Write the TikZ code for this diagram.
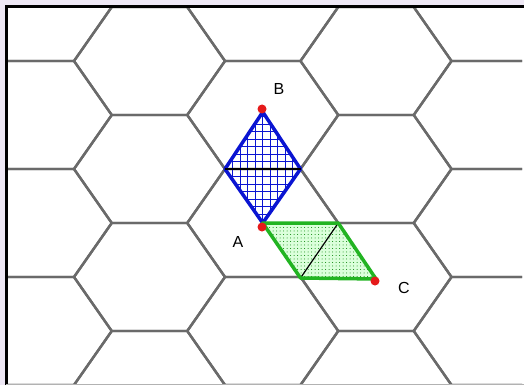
\documentclass[tikz,border=0pt]{standalone}
\usepackage{fontspec}
\setmainfont{Liberation Sans}
\usetikzlibrary{patterns.meta}
\definecolor{bgl}{HTML}{EEE8F5}
\definecolor{hexgray}{HTML}{6A6A6A}
\definecolor{dblue}{HTML}{0A14D2}
\definecolor{dgreen}{HTML}{22B422}
\definecolor{dred}{HTML}{E51A1A}
\begin{document}
\begin{tikzpicture}[x=1pt,y=-1pt,
  hexline/.style={draw=hexgray,line width=2.4pt,line join=miter},
  gridline/.style={dblue,line width=0.9pt},
  dot/.style={circle,fill=dred,inner sep=0pt,minimum size=9pt},
  lbl/.style={font=\fontsize{16}{16}\selectfont,inner sep=0pt}]
\useasboundingbox (0,0) rectangle (524,385);
\fill[bgl] (0,0) rectangle (524,385);
\fill[white] (6,6) rectangle (524,385);
\begin{scope}
\clip (7,7) rectangle (522,384);
\foreach \k in {-1,...,4} {
  \foreach \m in {-1,...,4} {
    \pgfmathsetmacro\cx{149.5+113.25*\k}
    \pgfmathsetmacro\cy{61+108*\m+54*mod(\k+2,2)}
    \draw[hexline] (\cx-75.5,\cy) -- (\cx-37.75,\cy-54) -- (\cx+37.75,\cy-54) -- (\cx+75.5,\cy) -- (\cx+37.75,\cy+54) -- (\cx-37.75,\cy+54) -- cycle;
  }
}
\end{scope}
\draw[black,line width=2.5pt] (6.5,385) -- (6.5,6.5) -- (524,6.5);
\draw[gray!60,line width=0.8pt] (6,384.5) -- (524,384.5);
% blue diamond
\coordinate (Bt) at (262.75,112);
\coordinate (Dl) at (225,169);
\coordinate (Dr) at (300.5,169);
\coordinate (Ab) at (262.75,223);
\begin{scope}
\clip (Bt) -- (Dl) -- (Ab) -- (Dr) -- cycle;
\foreach \i in {0,...,12} {
  \draw[gridline] (225+7.5*\i,100) -- (225+7.5*\i,230);
}
\foreach \j in {-9,...,9} {
  \draw[gridline] (220,169+7.5*\j) -- (305,169+7.5*\j);
}
\end{scope}
\draw[dblue,line width=3.5pt,line join=round] (Bt) -- (Dl) -- (Ab) -- (Dr) -- cycle;
\draw[black,line width=2.8pt] (Dl) -- (Dr);
% green parallelogram
\coordinate (Gt) at (338.25,223);
\coordinate (Cc) at (376,279);
\coordinate (Gb) at (300.5,278);
\fill[green!14] (Ab) -- (Gt) -- (Cc) -- (Gb) -- cycle;
\fill[pattern={Dots[distance=3.5pt,radius=0.5pt]},pattern color=green!50!black] (Ab) -- (Gt) -- (Cc) -- (Gb) -- cycle;
\draw[black,line width=1.2pt] (Gt) -- (Gb);
\draw[dgreen,line width=3.5pt,line join=round] (Ab) -- (Gt) -- (Cc) -- (Gb) -- cycle;
% points
\node[dot] (B) at (262,109) {};
\node[dot] (A) at (262,227) {};
\node[dot] (C) at (375,281) {};
\node[lbl] (lB) at (279,89) {B};
\node[lbl] (lA) at (238,242) {A};
\node[lbl] (lC) at (404,288) {C};
\end{tikzpicture}
\end{document}
